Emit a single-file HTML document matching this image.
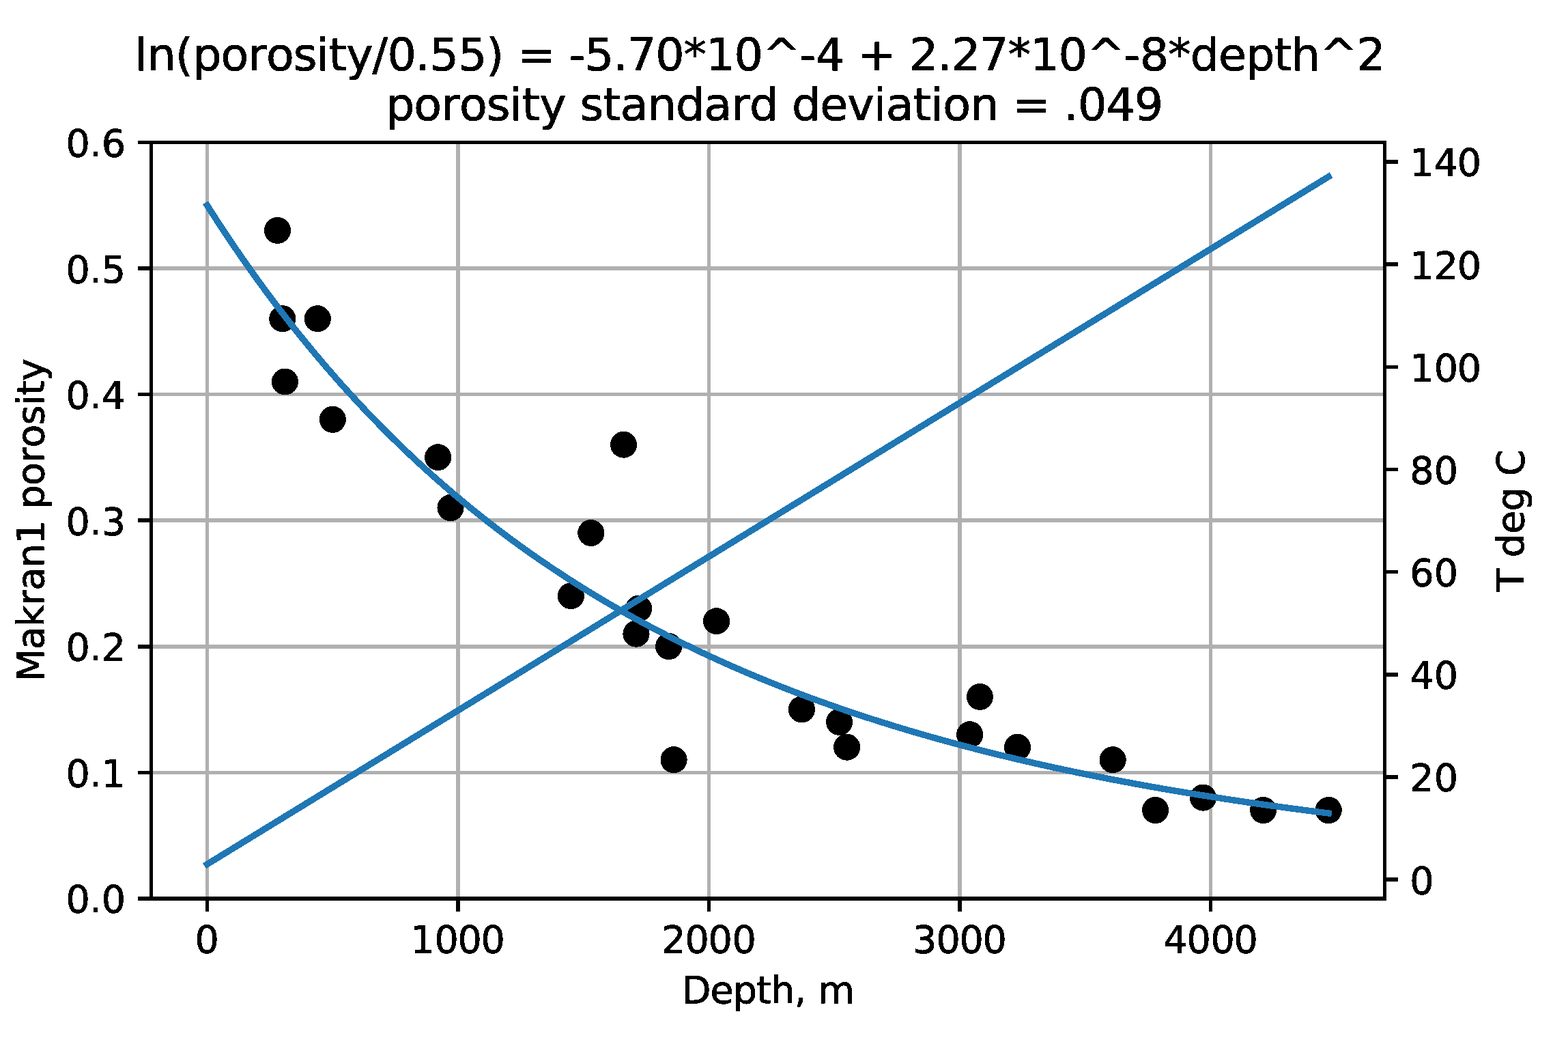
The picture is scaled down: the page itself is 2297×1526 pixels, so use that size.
<!DOCTYPE html>
<html lang="en"><head><meta charset="utf-8"><title>ln(porosity/0.55) fit - Makran1 porosity vs depth</title>
<style>html,body{margin:0;padding:0;background:#fff;}body{width:2297px;height:1526px;overflow:hidden;}svg{display:block;}text{font-family:'DejaVu Sans', 'Liberation Sans', sans-serif;fill:#000;white-space:pre;stroke:#000;stroke-width:0.9;stroke-linejoin:round;}</style>
</head><body>
<svg width="2297" height="1526" viewBox="0 0 2297 1526">
<defs>
<clipPath id="ax"><rect x="221.37" y="208.5" width="1806.93" height="1107.5"/></clipPath>
<filter id="bw" x="-5%" y="-20%" width="110%" height="140%" color-interpolation-filters="sRGB"><feComponentTransfer><feFuncA type="discrete" tableValues="0 1"/></feComponentTransfer></filter>
<filter id="bwp" filterUnits="userSpaceOnUse" x="221.37" y="208.5" width="1806.93" height="1107.5" color-interpolation-filters="sRGB"><feComponentTransfer><feFuncA type="discrete" tableValues="0 1"/></feComponentTransfer></filter>
</defs>
<rect x="0" y="0" width="2297" height="1526" fill="#ffffff"/>
<g id="grid" stroke="#b0b0b0" stroke-width="5.556" fill="none" shape-rendering="crispEdges">
<line x1="303.5" y1="208.5" x2="303.5" y2="1316"/>
<line x1="670.98" y1="208.5" x2="670.98" y2="1316"/>
<line x1="1038.46" y1="208.5" x2="1038.46" y2="1316"/>
<line x1="1405.94" y1="208.5" x2="1405.94" y2="1316"/>
<line x1="1773.42" y1="208.5" x2="1773.42" y2="1316"/>
<line x1="221.37" y1="1316" x2="2028.3" y2="1316"/>
<line x1="221.37" y1="1131.42" x2="2028.3" y2="1131.42"/>
<line x1="221.37" y1="946.83" x2="2028.3" y2="946.83"/>
<line x1="221.37" y1="762.25" x2="2028.3" y2="762.25"/>
<line x1="221.37" y1="577.67" x2="2028.3" y2="577.67"/>
<line x1="221.37" y1="393.08" x2="2028.3" y2="393.08"/>
<line x1="221.37" y1="208.5" x2="2028.3" y2="208.5"/>
</g>
<g id="points" fill="#000000" filter="url(#bwp)">
<circle cx="406.44" cy="337.51" r="19.55"/>
<circle cx="413.79" cy="466.72" r="19.55"/>
<circle cx="465.24" cy="466.72" r="19.55"/>
<circle cx="417.47" cy="559.01" r="19.55"/>
<circle cx="487.29" cy="614.38" r="19.55"/>
<circle cx="641.63" cy="669.76" r="19.55"/>
<circle cx="660.01" cy="743.59" r="19.55"/>
<circle cx="913.57" cy="651.3" r="19.55"/>
<circle cx="865.79" cy="780.51" r="19.55"/>
<circle cx="836.4" cy="872.8" r="19.55"/>
<circle cx="935.62" cy="891.26" r="19.55"/>
<circle cx="931.94" cy="928.17" r="19.55"/>
<circle cx="979.71" cy="946.63" r="19.55"/>
<circle cx="1049.53" cy="909.72" r="19.55"/>
<circle cx="987.06" cy="1112.76" r="19.55"/>
<circle cx="1174.48" cy="1038.92" r="19.55"/>
<circle cx="1229.6" cy="1057.38" r="19.55"/>
<circle cx="1240.62" cy="1094.3" r="19.55"/>
<circle cx="1420.69" cy="1075.84" r="19.55"/>
<circle cx="1435.39" cy="1020.47" r="19.55"/>
<circle cx="1490.51" cy="1094.3" r="19.55"/>
<circle cx="1630.15" cy="1112.76" r="19.55"/>
<circle cx="1692.62" cy="1186.59" r="19.55"/>
<circle cx="1762.45" cy="1168.13" r="19.55"/>
<circle cx="1850.64" cy="1186.59" r="19.55"/>
<circle cx="1946.19" cy="1186.59" r="19.55"/>
</g>
<g id="curves" fill="none" stroke="#1f77b4" stroke-width="9.4" stroke-linecap="square" stroke-linejoin="round" clip-path="url(#ax)" shape-rendering="crispEdges">
<polyline points="303.5,300.79 314.52,317.98 325.55,334.84 336.57,351.38 347.6,367.6 358.62,383.51 369.65,399.11 380.67,414.42 391.7,429.43 402.72,444.16 413.74,458.61 424.77,472.79 435.79,486.69 446.82,500.34 457.84,513.72 468.87,526.86 479.89,539.75 490.91,552.39 501.94,564.8 512.96,576.98 523.99,588.93 535.01,600.66 546.04,612.17 557.06,623.47 568.09,634.55 579.11,645.44 590.13,656.12 601.16,666.6 612.18,676.9 623.21,687 634.23,696.92 645.26,706.66 656.28,716.22 667.31,725.6 678.33,734.82 689.35,743.86 700.38,752.75 711.4,761.47 722.43,770.04 733.45,778.45 744.48,786.71 755.5,794.82 766.52,802.79 777.55,810.61 788.57,818.3 799.6,825.85 810.62,833.26 821.65,840.54 832.67,847.69 843.7,854.72 854.72,861.62 865.74,868.41 876.77,875.07 887.79,881.61 898.82,888.04 909.84,894.36 920.87,900.57 931.89,906.67 942.92,912.66 953.94,918.55 964.96,924.34 975.99,930.03 987.01,935.62 998.04,941.11 1009.06,946.51 1020.09,951.81 1031.11,957.03 1042.13,962.15 1053.16,967.19 1064.18,972.15 1075.21,977.01 1086.23,981.8 1097.26,986.51 1108.28,991.13 1119.31,995.68 1130.33,1000.15 1141.35,1004.55 1152.38,1008.87 1163.4,1013.12 1174.43,1017.3 1185.45,1021.41 1196.48,1025.45 1207.5,1029.42 1218.53,1033.33 1229.55,1037.17 1240.57,1040.95 1251.6,1044.67 1262.62,1048.32 1273.65,1051.92 1284.67,1055.46 1295.7,1058.93 1306.72,1062.36 1317.74,1065.72 1328.77,1069.03 1339.79,1072.29 1350.82,1075.5 1361.84,1078.65 1372.87,1081.75 1383.89,1084.81 1394.92,1087.81 1405.94,1090.76 1416.96,1093.67 1427.99,1096.53 1439.01,1099.35 1450.04,1102.12 1461.06,1104.85 1472.09,1107.53 1483.11,1110.17 1494.14,1112.77 1505.16,1115.33 1516.18,1117.84 1527.21,1120.32 1538.23,1122.76 1549.26,1125.16 1560.28,1127.53 1571.31,1129.85 1582.33,1132.14 1593.35,1134.4 1604.38,1136.62 1615.4,1138.8 1626.43,1140.96 1637.45,1143.07 1648.48,1145.16 1659.5,1147.21 1670.53,1149.24 1681.55,1151.23 1692.57,1153.19 1703.6,1155.12 1714.62,1157.02 1725.65,1158.89 1736.67,1160.74 1747.7,1162.55 1758.72,1164.34 1769.75,1166.1 1780.77,1167.84 1791.79,1169.55 1802.82,1171.23 1813.84,1172.89 1824.87,1174.53 1835.89,1176.14 1846.92,1177.72 1857.94,1179.28 1868.96,1180.82 1879.99,1182.34 1891.01,1183.83 1902.04,1185.3 1913.06,1186.75 1924.09,1188.18 1935.11,1189.59 1946.14,1190.97"/>
<line x1="303.5" y1="1265.66" x2="1946.14" y2="258.83"/>
</g>
<g id="ticks" stroke="#000000" stroke-width="5.556" fill="none" shape-rendering="crispEdges">
<line x1="303.5" y1="1316" x2="303.5" y2="1335.44"/>
<line x1="670.98" y1="1316" x2="670.98" y2="1335.44"/>
<line x1="1038.46" y1="1316" x2="1038.46" y2="1335.44"/>
<line x1="1405.94" y1="1316" x2="1405.94" y2="1335.44"/>
<line x1="1773.42" y1="1316" x2="1773.42" y2="1335.44"/>
<line x1="201.93" y1="1316" x2="221.37" y2="1316"/>
<line x1="201.93" y1="1131.42" x2="221.37" y2="1131.42"/>
<line x1="201.93" y1="946.83" x2="221.37" y2="946.83"/>
<line x1="201.93" y1="762.25" x2="221.37" y2="762.25"/>
<line x1="201.93" y1="577.67" x2="221.37" y2="577.67"/>
<line x1="201.93" y1="393.08" x2="221.37" y2="393.08"/>
<line x1="201.93" y1="208.5" x2="221.37" y2="208.5"/>
<line x1="2028.3" y1="1288.18" x2="2047.74" y2="1288.18"/>
<line x1="2028.3" y1="1138.02" x2="2047.74" y2="1138.02"/>
<line x1="2028.3" y1="987.86" x2="2047.74" y2="987.86"/>
<line x1="2028.3" y1="837.7" x2="2047.74" y2="837.7"/>
<line x1="2028.3" y1="687.54" x2="2047.74" y2="687.54"/>
<line x1="2028.3" y1="537.38" x2="2047.74" y2="537.38"/>
<line x1="2028.3" y1="387.22" x2="2047.74" y2="387.22"/>
<line x1="2028.3" y1="237.06" x2="2047.74" y2="237.06"/>
</g>
<g id="spines" stroke="#000000" stroke-width="5.556" fill="none" stroke-linecap="square" shape-rendering="crispEdges">
<line x1="221.37" y1="208.5" x2="221.37" y2="1316"/>
<line x1="2028.3" y1="208.5" x2="2028.3" y2="1316"/>
<line x1="221.37" y1="208.5" x2="2028.3" y2="208.5"/>
<line x1="221.37" y1="1316" x2="2028.3" y2="1316"/>
</g>
<g id="labels">
<text x="197.55 215.61 256.81 282.17 323.44 363.21 389.94 429.71 463.58 481.64 507.13 545.6 567.5 608.86 629.52 670.88 712.24 737.6 758.26 812.73 833.4 856.85 898.21 918.88 960.24 1001.59 1034.1 1075.46 1116.82 1171.29 1194.74 1236.1 1256.77 1311.23 1331.9 1373.26 1393.92 1435.28 1476.64 1509.14 1550.5 1591.86 1646.33 1669.79 1711.15 1743.65 1784.91 1824.91 1866.17 1891.66 1932.86 1987.33" y="103" font-size="66.67" filter="url(#bw)">ln(porosity/0.55) = -5.70*10^-4 + 2.27*10^-8*depth^2</text>
<text x="565 606.31 646.13 672.88 712.7 746.61 764.69 790.21 828.72 849.41 883.31 908.83 948.71 989.96 1031.27 1071.15 1097.91 1139.22 1159.9 1201.21 1241.25 1279.77 1297.85 1337.73 1363.25 1381.33 1421.15 1462.39 1483.08 1537.61 1558.3 1578.98 1620.39 1661.8" y="176" font-size="66.67" filter="url(#bw)">porosity standard deviation = .049</text>
<text x="285.59" y="1395" font-size="55.56" filter="url(#bw)">0</text>
<text x="601.15 636.59 670.59 704.59" y="1395" font-size="55.56" filter="url(#bw)">1000</text>
<text x="969.18 1003.59 1037.59 1072.59" y="1395" font-size="55.56" filter="url(#bw)">2000</text>
<text x="1337.02 1371.59 1405.59 1439.59" y="1395" font-size="55.56" filter="url(#bw)">3000</text>
<text x="1704.54 1738.59 1773.59 1807.59" y="1395" font-size="55.56" filter="url(#bw)">4000</text>
<text x="96.59 131.31 148.75" y="1336" font-size="55.56" filter="url(#bw)">0.0</text>
<text x="96.59 131.31 148.75" y="1152" font-size="55.56" filter="url(#bw)">0.1</text>
<text x="96.59 131.31 148.75" y="967" font-size="55.56" filter="url(#bw)">0.2</text>
<text x="96.59 131.31 148.75" y="783" font-size="55.56" filter="url(#bw)">0.3</text>
<text x="96.59 131.31 148.75" y="598" font-size="55.56" filter="url(#bw)">0.4</text>
<text x="96.59 131.31 148.75" y="414" font-size="55.56" filter="url(#bw)">0.5</text>
<text x="96.59 131.31 148.75" y="229" font-size="55.56" filter="url(#bw)">0.6</text>
<text x="2065.15" y="1309" font-size="55.56" filter="url(#bw)">0</text>
<text x="2065.15 2100.65" y="1158" font-size="55.56" filter="url(#bw)">20</text>
<text x="2065.15 2100.65" y="1008" font-size="55.56" filter="url(#bw)">40</text>
<text x="2065.15 2100.65" y="858" font-size="55.56" filter="url(#bw)">60</text>
<text x="2065.15 2100.65" y="708" font-size="55.56" filter="url(#bw)">80</text>
<text x="2065.15 2100.65 2134.65" y="558" font-size="55.56" filter="url(#bw)">100</text>
<text x="2065.15 2100.65 2134.65" y="408" font-size="55.56" filter="url(#bw)">120</text>
<text x="2065.15 2100.65 2134.65" y="257" font-size="55.56" filter="url(#bw)">140</text>
<text x="998.7 1040.41 1073.73 1108.11 1129.34 1163.67 1180.89 1198.1" y="1469" font-size="55.56" filter="url(#bw)">Depth, m</text>
<text transform="translate(64 998.45) rotate(-90)" x="0.25 46.98 80.17 111.53 133.8 166.99 201.32 235.78 252.99 287.37 320.51 342.78 375.91 404.13 419.18 440.41" y="0" font-size="55.56" filter="url(#bw)">Makran1 porosity</text>
<text transform="translate(2232 866.74) rotate(-90)" x="0.25 33.33 50.55 84.93 118.25 152.63 169.85" y="0" font-size="55.56" filter="url(#bw)">T deg C</text>
</g>
</svg>
</body></html>
